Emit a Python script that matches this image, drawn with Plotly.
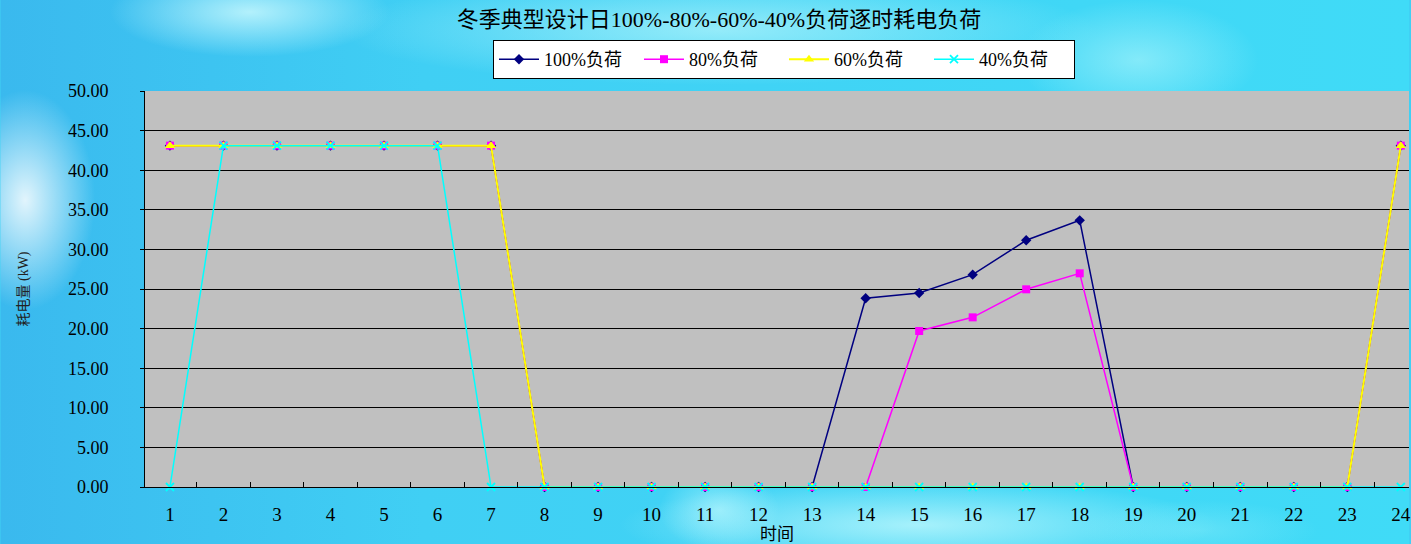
import base64
import plotly.graph_objects as go

# Hour of the design day and hourly electricity demand (kW) per load level
hours = [1, 2, 3, 4, 5, 6, 7, 8, 9, 10, 11, 12, 13, 14, 15, 16, 17, 18, 19, 20, 21, 22, 23, 24]
load_100 = [43.1, 43.1, 43.1, 43.1, 43.1, 43.1, 43.1, 0, 0, 0, 0, 0, 0,
            23.83, 24.49, 26.81, 31.15, 33.67, 0, 0, 0, 0, 0, 43.1]
load_80 = [43.1, 43.1, 43.1, 43.1, 43.1, 43.1, 43.1, 0, 0, 0, 0, 0, 0,
           0, 19.7, 21.42, 24.96, 26.98, 0, 0, 0, 0, 0, 43.1]
load_60 = [43.1, 43.1, 43.1, 43.1, 43.1, 43.1, 43.1, 0, 0, 0, 0, 0, 0,
           0, 0, 0, 0, 0, 0, 0, 0, 0, 0, 43.1]
load_40 = [0, 43.1, 43.1, 43.1, 43.1, 43.1, 0, 0, 0, 0, 0, 0, 0,
           0, 0, 0, 0, 0, 0, 0, 0, 0, 0, 0]

series_names = ["100%负荷", "80%负荷", "60%负荷", "40%负荷"]
title_text = "冬季典型设计日100%-80%-60%-40%负荷逐时耗电负荷"
y_title = "耗电量 (kW)"
x_title = "时间"

W, H = 1411, 544
M_L, M_R, M_T, M_B = 145, 0, 91, 57
PLOT_W, PLOT_H = W - M_L - M_R, H - M_T - M_B

NUM_FONT = "Liberation Serif, Noto Sans CJK SC, serif"

# Soft cyan backdrop around the plot area (the plot rectangle is masked out)
glows = [
    # cx, cy, rx, ry, colour, opacity
    (25, 200, 70, 110, "#ffffff", 0.85),
    (250, 12, 140, 45, "#d0fbff", 0.8),
    (720, 30, 380, 55, "#b8f6fc", 0.7),
    (1140, 60, 120, 60, "#b0f6fc", 0.6),
    (920, 525, 300, 45, "#c0f8fd", 0.8),
    (720, 510, 60, 40, "#c8fbff", 0.6),
    (1200, 530, 120, 30, "#90eefa", 0.4),
]
defs = []
shapes_svg = []
for i, (cx, cy, rx, ry, col, op) in enumerate(glows):
    defs.append(
        f'<radialGradient id="r{i}"><stop offset="0" stop-color="{col}" stop-opacity="{op}"/>'
        f'<stop offset="1" stop-color="{col}" stop-opacity="0"/></radialGradient>'
    )
    shapes_svg.append(f'<ellipse cx="{cx}" cy="{cy}" rx="{rx}" ry="{ry}" fill="url(#r{i})"/>')

svg = (
    f'<svg xmlns="http://www.w3.org/2000/svg" width="{W}" height="{H}" viewBox="0 0 {W} {H}" '
    f'preserveAspectRatio="none"><defs>'
    f'<linearGradient id="base" x1="0" y1="0" x2="1" y2="0">'
    f'<stop offset="0" stop-color="#3ab9ee"/><stop offset="0.3" stop-color="#40cff4"/>'
    f'<stop offset="1" stop-color="#40dbf7"/></linearGradient>'
    + "".join(defs) +
    f'<mask id="m"><rect width="{W}" height="{H}" fill="#fff"/>'
    f'<rect x="{M_L}" y="{M_T}" width="{PLOT_W}" height="{PLOT_H}" fill="#000"/></mask>'
    f'</defs><g mask="url(#m)"><rect width="{W}" height="{H}" fill="url(#base)"/>'
    + "".join(shapes_svg) +
    '</g></svg>'
)
bg_src = "data:image/svg+xml;base64," + base64.b64encode(svg.encode("utf-8")).decode("ascii")

styles = [
    dict(color="#000080", symbol="diamond", size=8, lw=1.5),
    dict(color="#ff00ff", symbol="square", size=8, lw=1.5),
    dict(color="#ffff00", symbol="triangle-up", size=9, lw=2),
    dict(color="#00ffff", symbol="x-thin", size=8, lw=1.5),
]

fig = go.Figure()
for name, vals, st in zip(series_names, [load_100, load_80, load_60, load_40], styles):
    marker = dict(color=st["color"], symbol=st["symbol"], size=st["size"])
    if st["symbol"] == "x-thin":
        marker["line"] = dict(color=st["color"], width=1.8)
    else:
        marker["line"] = dict(width=0)
    fig.add_trace(go.Scatter(
        x=hours, y=vals, name=name, mode="lines+markers",
        line=dict(color=st["color"], width=st["lw"]),
        marker=marker, cliponaxis=False,
    ))

fig.update_layout(
    width=W, height=H, autosize=False,
    margin=dict(l=M_L, r=M_R, t=M_T, b=M_B, pad=0),
    paper_bgcolor="#40d0f4",
    plot_bgcolor="#c0c0c0",
    font=dict(family=NUM_FONT, color="#000000"),
    title=dict(
        text=title_text, x=719 / W, xanchor="center", y=1 - 19 / H, yanchor="middle",
        font=dict(family=NUM_FONT, size=22, color="#000000"),
    ),
    legend=dict(
        orientation="h", x=(785 - M_L) / PLOT_W, xanchor="center",
        y=1 + (M_T - 40) / PLOT_H, yanchor="top",
        bgcolor="#ffffff", bordercolor="#000000", borderwidth=1,
        font=dict(family=NUM_FONT, size=18, color="#000000"),
        itemwidth=40, entrywidth=90, entrywidthmode="pixels",
    ),
    showlegend=True,
    images=[dict(
        source=bg_src, xref="paper", yref="paper",
        x=-M_L / PLOT_W, y=1 + M_T / PLOT_H,
        sizex=W / PLOT_W, sizey=H / PLOT_H,
        xanchor="left", yanchor="top", sizing="stretch", layer="below",
    )],
)

fig.update_xaxes(
    range=[0.534, 24.153],
    tickmode="array", tickvals=hours, ticktext=[str(h) for h in hours],
    ticks="", showgrid=False, zeroline=False,
    showline=True, linecolor="#000000", linewidth=1,
    tickfont=dict(family=NUM_FONT, size=19, color="#000000"),
    ticklabelstandoff=10, ticklabeloverflow="allow",
    minor=dict(ticks="inside", tick0=0.5, dtick=1, ticklen=5,
               tickcolor="#000000", tickwidth=1, showgrid=False),
    title=dict(text=x_title, font=dict(family=NUM_FONT, size=17, color="#000000"), standoff=4),
)
fig.update_yaxes(
    range=[0, 50], dtick=5, tick0=0, tickformat=".2f",
    showgrid=True, gridcolor="#000000", gridwidth=1, zeroline=False,
    showline=True, linecolor="#000000", linewidth=1,
    ticks="outside", ticklen=4, tickcolor="#000000",
    tickfont=dict(family=NUM_FONT, size=18, color="#000000"),
    ticklabelstandoff=28,
    title=dict(text=y_title, font=dict(family=NUM_FONT, size=14, color="#222222"), standoff=36),
)

fig.write_html("out.html")
